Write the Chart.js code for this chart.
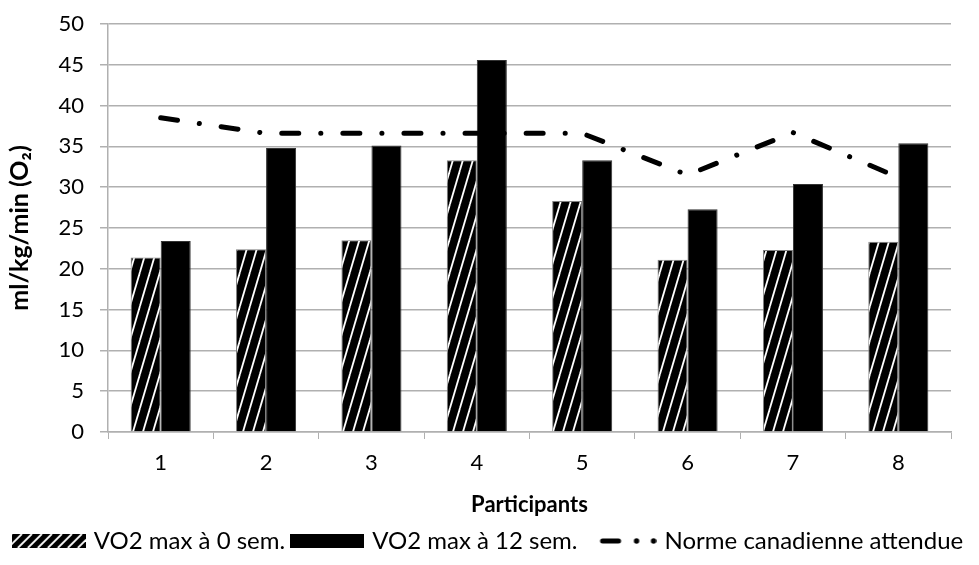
<!DOCTYPE html>
<html>
<head>
<meta charset="utf-8">
<script src="https://cdn.jsdelivr.net/npm/chart.js@4/dist/chart.umd.min.js"></script>
<style>
  html, body { margin: 0; padding: 0; background: #fff; }
  #wrap { width: 979px; height: 565px; }
</style>
</head>
<body>
<div id="wrap"><canvas id="chart" width="979" height="565"></canvas></div>
<script>
const participants = ["1", "2", "3", "4", "5", "6", "7", "8"];
const vo2Week0 = [21.4, 22.4, 23.5, 33.3, 28.3, 21.1, 22.3, 23.3];
const vo2Week12 = [23.4, 34.8, 35.1, 45.6, 33.3, 27.3, 30.4, 35.4];
const normCanada = [38.5, 36.6, 36.6, 36.6, 36.6, 31.5, 36.7, 31.2];

const seriesLabels = ["VO2 max à 0 sem.", "VO2 max à 12 sem.", "Norme canadienne attendue"];

const FONT = "Lato, 'Liberation Sans', sans-serif";

// black with thin white "/" stripes
function makeHatch() {
  const tile = document.createElement("canvas");
  tile.width = 10;
  tile.height = 34;
  const c = tile.getContext("2d");
  c.fillStyle = "#000";
  c.fillRect(0, 0, 10, 34);
  c.strokeStyle = "#fff";
  c.lineWidth = 1.8;
  [-10, 0, 10].forEach(dx => {
    c.beginPath();
    c.moveTo(dx, 34);
    c.lineTo(dx + 10, 0);
    c.stroke();
  });
  return c.createPattern(tile, "repeat");
}

const ctx = document.getElementById("chart").getContext("2d");
const hatch = makeHatch();

// legend samples
const SW = 74, SH = 14;

function hatchSample() {
  const cv = document.createElement("canvas");
  cv.width = SW; cv.height = SH;
  const c = cv.getContext("2d");
  c.fillStyle = "#000";
  c.fillRect(0, 0, SW, SH);
  c.strokeStyle = "#fff";
  c.lineWidth = 1.8;
  for (let x = -14; x < SW + 4; x += 10) {
    c.beginPath();
    c.moveTo(x, SH);
    c.lineTo(x + 14, 0);
    c.stroke();
  }
  return cv;
}

function solidSample() {
  const cv = document.createElement("canvas");
  cv.width = SW; cv.height = SH;
  const c = cv.getContext("2d");
  c.fillStyle = "#000";
  c.fillRect(0, 0, SW, SH);
  return cv;
}

function lineSample() {
  const cv = document.createElement("canvas");
  cv.width = SW; cv.height = SH;
  const c = cv.getContext("2d");
  c.strokeStyle = "#000";
  c.fillStyle = "#000";
  c.lineWidth = 5;
  c.lineCap = "round";
  c.beginPath();
  c.moveTo(20, 7);
  c.lineTo(36, 7);
  c.stroke();
  [54, 71].forEach(x => {
    c.beginPath();
    c.arc(x, 7, 2.7, 0, Math.PI * 2);
    c.fill();
  });
  return cv;
}

const samples = [hatchSample(), solidSample(), lineSample()];

new Chart(ctx, {
  type: "bar",
  data: {
    labels: participants,
    datasets: [
      {
        label: seriesLabels[0],
        data: vo2Week0,
        backgroundColor: hatch,
        borderColor: "#808080",
        borderWidth: 1,
        barPercentage: 1,
        categoryPercentage: 0.57,
        order: 2
      },
      {
        label: seriesLabels[1],
        data: vo2Week12,
        backgroundColor: "#000",
        borderColor: "#333",
        borderWidth: 1,
        barPercentage: 1,
        categoryPercentage: 0.57,
        order: 2
      },
      {
        type: "line",
        label: seriesLabels[2],
        data: normCanada,
        borderColor: "#000",
        borderWidth: 5,
        borderDash: [17, 22, 0.1, 22],
        borderCapStyle: "round",
        pointRadius: 0,
        fill: false,
        tension: 0,
        order: 1
      }
    ]
  },
  options: {
    responsive: false,
    animation: false,
    layout: { padding: { top: 24, right: 0, left: 0, bottom: 2 } },
    plugins: {
      tooltip: { enabled: false },
      legend: {
        position: "bottom",
        labels: {
          usePointStyle: true,
          pointStyleWidth: SW - 8,
          padding: 9,
          color: "#000",
          font: { family: FONT, size: 24 },
          generateLabels: chart => chart.data.datasets.map((ds, i) => ({
            text: ds.label,
            pointStyle: samples[i],
            fillStyle: "#000",
            strokeStyle: "#000",
            lineWidth: 0,
            hidden: false,
            datasetIndex: i
          }))
        }
      }
    },
    scales: {
      x: {
        grid: {
          display: true,
          offset: true,
          drawOnChartArea: false,
          tickLength: 7,
          color: "#b0b0b0"
        },
        border: { display: true, color: "#b0b0b0", width: 1.5 },
        ticks: { color: "#000", padding: 11, font: { family: FONT, size: 22 } },
        title: {
          display: true,
          text: "Participants",
          color: "#000",
          font: { family: FONT, size: 22, weight: "bold" },
          padding: { top: 4, bottom: 2 }
        },
        afterFit: scale => { scale.height = 88; }
      },
      y: {
        min: 0,
        max: 50,
        ticks: { stepSize: 5, color: "#000", padding: 16, font: { family: FONT, size: 22 } },
        grid: { color: "#b0b0b0", lineWidth: 1.5, tickLength: 8 },
        border: { display: true, color: "#b0b0b0", width: 1.5 },
        title: {
          display: true,
          text: "ml/kg/min (O₂)",
          color: "#000",
          font: { family: FONT, size: 25, weight: "bold" },
          padding: { top: 5, bottom: 8 }
        },
        afterFit: scale => {
          scale.width = 108;
          // label padding would otherwise push the top gridline down
          scale.paddingTop = 0;
          scale.paddingBottom = 0;
        }
      },
      // empty right-hand strip, keeps the plot off the right edge
      // without narrowing the legend row
      spacer: {
        type: "linear",
        position: "right",
        grid: { display: false, drawTicks: false },
        border: { display: false },
        ticks: { display: false },
        afterFit: scale => { scale.width = 28; }
      }
    }
  }
});
</script>
</body>
</html>
